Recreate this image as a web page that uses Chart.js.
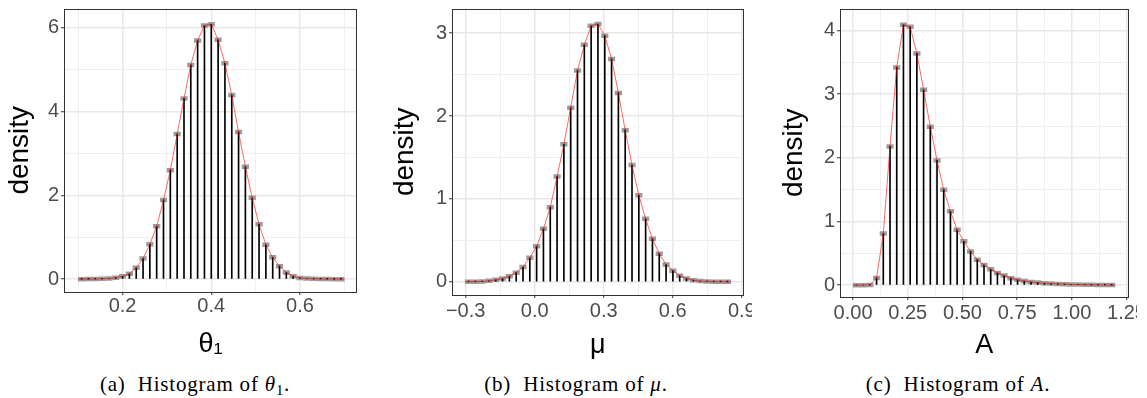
<!DOCTYPE html>
<html><head><meta charset="utf-8">
<script src="https://cdn.jsdelivr.net/npm/chart.js@4.4.1/dist/chart.umd.min.js"></script>
<style>
html,body{margin:0;padding:0;background:#fff;}
#fig{position:relative;width:1147px;height:398px;overflow:hidden;background:#fff;}
canvas{position:absolute;top:0;}
.cap{position:absolute;top:372px;font-family:'Liberation Serif','DejaVu Serif',serif;font-size:21px;letter-spacing:0.8px;color:#000;white-space:nowrap;transform:translateX(-50%);}
.cap sub{font-size:0.7em;vertical-align:baseline;position:relative;top:0.3em;}
</style></head><body>
<div id="fig">
<canvas id="c1" width="380" height="362" style="left:0px"></canvas>
<canvas id="c2" width="372" height="362" style="left:380px"></canvas>
<canvas id="c3" width="377" height="362" style="left:760px"></canvas>
<div class="cap" style="left:195px">(a)&nbsp;&nbsp;Histogram of <i>θ</i><sub>1</sub>.</div>
<div class="cap" style="left:576px">(b)&nbsp;&nbsp;Histogram of <i>μ</i>.</div>
<div class="cap" style="left:958px">(c)&nbsp;&nbsp;Histogram of <i>A</i>.</div>
</div>
<script>
// ---------- data ----------
const theta1_x = [0.1077,0.1231,0.1385,0.1538,0.1692,0.1846,0.2000,0.2154,0.2308,0.2462,0.2615,0.2769,0.2923,0.3077,0.3231,0.3385,0.3538,0.3692,0.3846,0.4000,0.4154,0.4308,0.4462,0.4615,0.4769,0.4923,0.5077,0.5231,0.5385,0.5538,0.5692,0.5846,0.6000,0.6154,0.6308,0.6462,0.6615,0.6769,0.6923];
const theta1_density = [0.001,0.002,0.004,0.008,0.016,0.035,0.07,0.13,0.27,0.49,0.83,1.26,1.89,2.60,3.46,4.31,5.11,5.69,6.05,6.08,5.71,5.15,4.39,3.51,2.68,1.94,1.31,0.82,0.52,0.31,0.16,0.07,0.03,0.015,0.008,0.004,0.002,0.001,0.0005];
const theta1_range = [0.100,0.700];

const mu_x = [-0.2875,-0.2579,-0.2283,-0.1987,-0.1691,-0.1395,-0.1099,-0.0803,-0.0507,-0.0211,0.0085,0.0381,0.0677,0.0973,0.1269,0.1565,0.1861,0.2157,0.2453,0.2749,0.3045,0.3341,0.3637,0.3933,0.4229,0.4525,0.4821,0.5117,0.5413,0.5709,0.6005,0.6301,0.6597,0.6893,0.7189,0.7485,0.7781,0.8077,0.8373];
const mu_density = [0.001,0.002,0.005,0.012,0.024,0.04,0.068,0.111,0.179,0.29,0.43,0.64,0.90,1.27,1.66,2.10,2.55,2.86,3.09,3.11,2.97,2.69,2.28,1.83,1.41,1.045,0.76,0.52,0.34,0.21,0.135,0.075,0.04,0.02,0.01,0.005,0.002,0.001,0.0005];
const mu_range = [-0.302,0.852];

const A_x = [0.0153,0.0460,0.0767,0.1074,0.1381,0.1688,0.1995,0.2302,0.2609,0.2916,0.3223,0.3530,0.3837,0.4143,0.4450,0.4757,0.5064,0.5371,0.5678,0.5985,0.6292,0.6599,0.6906,0.7213,0.7520,0.7827,0.8134,0.8441,0.8748,0.9055,0.9362,0.9669,0.9976,1.0283,1.0590,1.0897,1.1204,1.1511,1.1818];
const A_density = [0,0,0.003,0.114,0.81,2.18,3.42,4.09,4.06,3.64,3.07,2.49,1.96,1.50,1.16,0.87,0.69,0.53,0.40,0.315,0.25,0.19,0.15,0.11,0.085,0.065,0.05,0.04,0.03,0.025,0.02,0.015,0.012,0.009,0.007,0.005,0.004,0.002,0.001];
const A_range = [0.000,1.197];

// ---------- ticks ----------
const theta1_xticks = [0.2,0.4,0.6];           const theta1_xlabels = ['0.2','0.4','0.6'];
const theta1_xminor = [0.1,0.3,0.5,0.7];
const theta1_yticks = [0,2,4,6];               const theta1_ylabels = ['0','2','4','6'];
const theta1_yminor = [1,3,5];

const mu_xticks = [-0.3,0,0.3,0.6,0.9];        const mu_xlabels = ['\u22120.3','0.0','0.3','0.6','0.9'];
const mu_xminor = [-0.15,0.15,0.45,0.75];
const mu_yticks = [0,1,2,3];                   const mu_ylabels = ['0','1','2','3'];
const mu_yminor = [0.5,1.5,2.5];

const A_xticks = [0,0.25,0.5,0.75,1.0,1.25];   const A_xlabels = ['0.00','0.25','0.50','0.75','1.00','1.25'];
const A_xminor = [0.125,0.375,0.625,0.875,1.125];
const A_yticks = [0,1,2,3,4];                  const A_ylabels = ['0','1','2','3','4'];
const A_yminor = [0.5,1.5,2.5,3.5];

// ---------- drawing ----------
Chart.defaults.font.family = "'Liberation Sans', Arial, Helvetica, sans-serif";
Chart.defaults.animation = false;

const borderPlugin = {
  id: 'panelBorder',
  afterDatasetsDraw(chart) {
    const a = chart.chartArea, c = chart.ctx;
    c.save();
    c.strokeStyle = '#333333';
    c.lineWidth = 1;
    c.strokeRect(Math.round(a.left) + 0.5, Math.round(a.top) + 0.5, Math.round(a.right - a.left) - 1, Math.round(a.bottom - a.top) - 1);
    c.restore();
  }
};

function axis(o) {
  return {
    type: 'linear', min: o.min, max: o.max, offset: false,
    afterBuildTicks: s => {
      const t = o.major.map(v => ({value: v, isMinor: false})).concat(o.minor.map(v => ({value: v, isMinor: true})));
      t.sort((a, b) => a.value - b.value);
      s.ticks = t;
    },
    ticks: {
      autoSkip: false, maxRotation: 0, minRotation: 0, padding: o.tpad, color: '#4d4d4d',
      font: {size: 20, lineHeight: 1},
      callback: (v, i, t) => t[i].isMinor ? '' : o.labels[o.major.indexOf(t[i].value)]
    },
    grid: {
      offset: false, drawTicks: true, tickLength: 3, tickWidth: 1,
      color: c => (c.tick && c.tick.isMinor) ? '#efefef' : '#e8e8e8',
      lineWidth: c => (c.tick && c.tick.isMinor) ? 1 : 1.5,
      tickColor: c => (c.tick && c.tick.isMinor) ? 'rgba(0,0,0,0)' : '#333333'
    },
    border: {display: false},
    title: {display: true, text: o.title, color: '#000', font: {size: o.tsize}, padding: o.titlePad},
    afterFit: s => {
      if (o.width !== undefined) s.width = o.width;
      if (o.height !== undefined) s.height = o.height;
      s.paddingLeft = 0; s.paddingRight = 0; s.paddingTop = 0; s.paddingBottom = 0;
    }
  };
}

function panel(id, xs, ys, range, xo, yo, pad) {
  const pts = xs.map((x, i) => ({x: x, y: ys[i]}));
  const line = [{x: range[0], y: 0}].concat(pts, [{x: range[1], y: 0}]);
  new Chart(document.getElementById(id), {
    type: 'bar',
    data: {datasets: [
      {type: 'line', data: line, borderColor: 'rgba(255,0,0,0.6)', borderWidth: 1, pointRadius: 0, tension: 0, order: 0},
      {type: 'bar', data: pts, backgroundColor: '#000000', barThickness: 1, grouped: false, order: 1},
      {type: 'line', data: pts, showLine: false, pointStyle: 'line', pointRadius: 3.6, pointBorderWidth: 4.5,
       pointBorderColor: '#9c9c9c', pointBackgroundColor: '#9c9c9c', order: 2}
    ]},
    options: {
      responsive: false, devicePixelRatio: 1, animation: false,
      layout: {padding: pad},
      plugins: {legend: {display: false}, tooltip: {enabled: false}},
      scales: {x: axis(xo), y: axis(yo)}
    },
    plugins: [borderPlugin]
  });
}

panel('c1', theta1_x, theta1_density, theta1_range,
  {min: 0.068, max: 0.7285, major: theta1_xticks, minor: theta1_xminor, labels: theta1_xlabels, title: '\u03b8\u2081', tsize: 27, height: 70, tpad: 1.5, titlePad: {top: 0, bottom: 1}},
  {min: -0.306, max: 6.455, major: theta1_yticks, minor: theta1_yminor, labels: theta1_ylabels, title: 'density', tsize: 28, width: 64, tpad: 2, titlePad: {top: 3, bottom: 0}},
  {left: 0, right: 23, top: 5, bottom: 0});

panel('c2', mu_x, mu_density, mu_range,
  {min: -0.3592, max: 0.9073, major: mu_xticks, minor: mu_xminor, labels: mu_xlabels, title: '\u03bc', tsize: 27, height: 67, tpad: 3, titlePad: {top: 0, bottom: 0}},
  {min: -0.1585, max: 3.298, major: mu_yticks, minor: mu_yminor, labels: mu_ylabels, title: 'density', tsize: 28, width: 72, tpad: 2, titlePad: {top: 8, bottom: 0}},
  {left: 0, right: 7, top: 5, bottom: 0});

panel('c3', A_x, A_density, A_range,
  {min: -0.0598, max: 1.259, major: A_xticks, minor: A_xminor, labels: A_xlabels, title: 'A', tsize: 27, height: 65, tpad: 3, titlePad: {top: 0, bottom: 0}},
  {min: -0.186, max: 4.346, major: A_yticks, minor: A_yminor, labels: A_ylabels, title: 'density', tsize: 28, width: 80, tpad: 2, titlePad: {top: 17, bottom: 0}},
  {left: 0, right: 4, top: 5, bottom: 0});
</script>
</body></html>
